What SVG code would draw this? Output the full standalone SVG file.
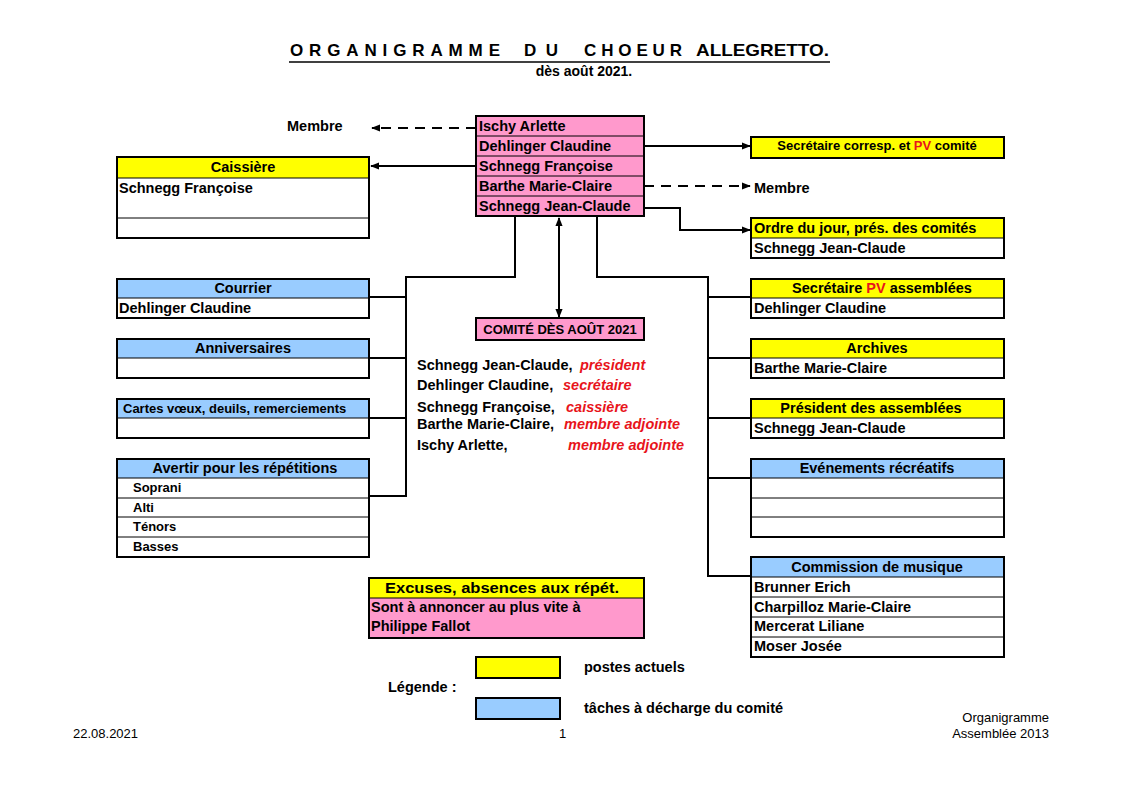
<svg xmlns="http://www.w3.org/2000/svg" width="1122" height="793" viewBox="0 0 1122 793">
<defs>
<marker id="ah" viewBox="0 0 10 10" refX="9" refY="5" markerWidth="9" markerHeight="9" markerUnits="userSpaceOnUse" orient="auto-start-reverse">
<path d="M0,1 L10,5 L0,9 z" fill="#000"/>
</marker>
</defs>
<style>
text{font-family:"Liberation Sans",Arial,sans-serif;font-weight:bold;font-size:14.5px;fill:#000}
.c{text-anchor:middle}
.s{font-size:13px}
.t{font-size:17px}
.n{font-weight:normal;font-size:13px}
.r{fill:#e8141b;font-style:italic}
.red{fill:#e8141b}
.y{fill:#ffff00}
.b{fill:#99ccff}
.p{fill:#ff99cc}
.w{fill:#fff}
.o{fill:none;stroke:#000;stroke-width:2}
.l{stroke:#000;stroke-width:1;fill:none}
.k{stroke:#000;stroke-width:2;fill:none}
.d{stroke:#000;stroke-width:2;fill:none;stroke-dasharray:10,7}
</style>
<rect width="1122" height="793" fill="#fff"/>

<g id="title">
<text x="290" y="56" class="t" textLength="210" lengthAdjust="spacing">ORGANIGRAMME</text>
<text x="524" y="56" class="t" textLength="34" lengthAdjust="spacing">DU</text>
<text x="584" y="56" class="t" textLength="98" lengthAdjust="spacing">CHOEUR</text>
<text x="696" y="56" class="t" textLength="133" lengthAdjust="spacingAndGlyphs">ALLEGRETTO.</text>
<line x1="289" y1="62" x2="830" y2="62" stroke="#000" stroke-width="1.5"/>
<text x="584" y="76" class="c" style="font-size:14px">dès août 2021.</text>
</g>

<g id="connectors">
<line class="d" x1="476" y1="128" x2="372" y2="128" marker-end="url(#ah)"/>
<line class="k" x1="476" y1="166" x2="371" y2="166" marker-end="url(#ah)"/>
<line class="k" x1="644" y1="146" x2="750" y2="146" marker-end="url(#ah)"/>
<line class="d" x1="644" y1="186" x2="750" y2="186" marker-end="url(#ah)"/>
<polyline class="k" points="644,208 680,208 680,230 750,230" marker-end="url(#ah)"/>
<line class="k" x1="559" y1="218" x2="559" y2="317" marker-start="url(#ah)" marker-end="url(#ah)"/>
<polyline class="k" points="515,216 515,277 406,277 406,496 370,496"/>
<line class="k" x1="406" y1="297" x2="370" y2="297"/>
<line class="k" x1="406" y1="358" x2="370" y2="358"/>
<line class="k" x1="406" y1="418" x2="370" y2="418"/>
<polyline class="k" points="597,216 597,277 708,277 708,576 751,576"/>
<line class="k" x1="708" y1="297" x2="751" y2="297"/>
<line class="k" x1="708" y1="358" x2="751" y2="358"/>
<line class="k" x1="708" y1="418" x2="751" y2="418"/>
<line class="k" x1="708" y1="478" x2="751" y2="478"/>
</g>

<g id="membre-left"><text x="287" y="131">Membre</text></g>
<g id="membre-right"><text x="754" y="193">Membre</text></g>

<g id="central">
<rect class="p" x="476" y="116" width="168" height="100"/>
<line class="l" x1="476" y1="136" x2="644" y2="136"/>
<line class="l" x1="476" y1="156" x2="644" y2="156"/>
<line class="l" x1="476" y1="176" x2="644" y2="176"/>
<line class="l" x1="476" y1="196" x2="644" y2="196"/>
<rect class="o" x="476" y="116" width="168" height="100"/>
<text x="479" y="131">Ischy Arlette</text>
<text x="479" y="151">Dehlinger Claudine</text>
<text x="479" y="171">Schnegg Françoise</text>
<text x="479" y="191">Barthe Marie-Claire</text>
<text x="479" y="211">Schnegg Jean-Claude</text>
</g>

<g id="caissiere">
<rect class="y" x="117" y="157" width="252" height="21"/>
<rect class="w" x="117" y="178" width="252" height="60"/>
<line class="l" x1="117" y1="178" x2="369" y2="178"/>
<line class="l" x1="117" y1="218" x2="369" y2="218"/>
<rect class="o" x="117" y="157" width="252" height="81"/>
<text x="243" y="172" class="c">Caissière</text>
<text x="119" y="193">Schnegg Françoise</text>
</g>

<g id="secr-corresp">
<rect class="y" x="751" y="137" width="253" height="21"/>
<rect class="o" x="751" y="137" width="253" height="21"/>
<text x="877" y="150" class="c s">Secrétaire corresp. et <tspan class="red">PV</tspan> comité</text>
</g>

<g id="ordre">
<rect class="y" x="751" y="218" width="253" height="20"/>
<rect class="w" x="751" y="238" width="253" height="20"/>
<line class="l" x1="751" y1="238" x2="1004" y2="238"/>
<rect class="o" x="751" y="218" width="253" height="40"/>
<text x="754" y="233">Ordre du jour, prés. des comités</text>
<text x="754" y="253">Schnegg Jean-Claude</text>
</g>

<g id="courrier">
<rect class="b" x="117" y="279" width="252" height="19"/>
<rect class="w" x="117" y="298" width="252" height="20"/>
<line class="l" x1="117" y1="298" x2="369" y2="298"/>
<rect class="o" x="117" y="279" width="252" height="39"/>
<text x="243" y="293" class="c">Courrier</text>
<text x="119" y="313">Dehlinger Claudine</text>
</g>

<g id="anniversaires">
<rect class="b" x="117" y="339" width="252" height="19"/>
<rect class="w" x="117" y="358" width="252" height="20"/>
<line class="l" x1="117" y1="358" x2="369" y2="358"/>
<rect class="o" x="117" y="339" width="252" height="39"/>
<text x="243" y="353" class="c">Anniversaires</text>
</g>

<g id="cartes">
<rect class="b" x="117" y="399" width="252" height="19"/>
<rect class="w" x="117" y="418" width="252" height="20"/>
<line class="l" x1="117" y1="418" x2="369" y2="418"/>
<rect class="o" x="117" y="399" width="252" height="39"/>
<text x="123" y="413" class="s">Cartes vœux, deuils, remerciements</text>
</g>

<g id="avertir">
<rect class="b" x="117" y="459" width="252" height="19"/>
<rect class="w" x="117" y="478" width="252" height="79"/>
<line class="l" x1="117" y1="478" x2="369" y2="478"/>
<line class="l" x1="117" y1="498" x2="369" y2="498"/>
<line class="l" x1="117" y1="517" x2="369" y2="517"/>
<line class="l" x1="117" y1="537" x2="369" y2="537"/>
<rect class="o" x="117" y="459" width="252" height="98"/>
<text x="245" y="473" class="c">Avertir pour les répétitions</text>
<text x="133" y="492" class="s">Soprani</text>
<text x="133" y="512" class="s">Alti</text>
<text x="133" y="531" class="s">Ténors</text>
<text x="133" y="551" class="s">Basses</text>
</g>

<g id="comite">
<rect class="p" x="476" y="318" width="168" height="22"/>
<rect class="o" x="476" y="318" width="168" height="22"/>
<text x="560" y="334" class="c s">COMITÉ DÈS AOÛT 2021</text>
</g>

<g id="comite-list">
<text x="417" y="370">Schnegg Jean-Claude, <tspan x="580" class="r">président</tspan></text>
<text x="417" y="390">Dehlinger Claudine, <tspan x="563" class="r">secrétaire</tspan></text>
<text x="417" y="412">Schnegg Françoise, <tspan x="566" class="r">caissière</tspan></text>
<text x="417" y="429">Barthe Marie-Claire, <tspan x="564" class="r">membre adjointe</tspan></text>
<text x="417" y="450">Ischy Arlette, <tspan x="568" class="r">membre adjointe</tspan></text>
</g>

<g id="secr-pv">
<rect class="y" x="751" y="279" width="253" height="19"/>
<rect class="w" x="751" y="298" width="253" height="20"/>
<line class="l" x1="751" y1="298" x2="1004" y2="298"/>
<rect class="o" x="751" y="279" width="253" height="39"/>
<text x="882" y="293" class="c">Secrétaire <tspan class="red">PV</tspan> assemblées</text>
<text x="754" y="313">Dehlinger Claudine</text>
</g>

<g id="archives">
<rect class="y" x="751" y="339" width="253" height="19"/>
<rect class="w" x="751" y="358" width="253" height="20"/>
<line class="l" x1="751" y1="358" x2="1004" y2="358"/>
<rect class="o" x="751" y="339" width="253" height="39"/>
<text x="877" y="353" class="c">Archives</text>
<text x="754" y="373">Barthe Marie-Claire</text>
</g>

<g id="president">
<rect class="y" x="751" y="399" width="253" height="19"/>
<rect class="w" x="751" y="418" width="253" height="20"/>
<line class="l" x1="751" y1="418" x2="1004" y2="418"/>
<rect class="o" x="751" y="399" width="253" height="39"/>
<text x="871" y="413" class="c">Président des assemblées</text>
<text x="754" y="433">Schnegg Jean-Claude</text>
</g>

<g id="evenements">
<rect class="b" x="751" y="459" width="253" height="19"/>
<rect class="w" x="751" y="478" width="253" height="59"/>
<line class="l" x1="751" y1="478" x2="1004" y2="478"/>
<line class="l" x1="751" y1="498" x2="1004" y2="498"/>
<line class="l" x1="751" y1="517" x2="1004" y2="517"/>
<rect class="o" x="751" y="459" width="253" height="78"/>
<text x="877" y="473" class="c">Evénements récréatifs</text>
</g>

<g id="commission">
<rect class="b" x="751" y="557" width="253" height="20"/>
<rect class="w" x="751" y="577" width="253" height="80"/>
<line class="l" x1="751" y1="577" x2="1004" y2="577"/>
<line class="l" x1="751" y1="597" x2="1004" y2="597"/>
<line class="l" x1="751" y1="617" x2="1004" y2="617"/>
<line class="l" x1="751" y1="637" x2="1004" y2="637"/>
<rect class="o" x="751" y="557" width="253" height="100"/>
<text x="877" y="572" class="c">Commission de musique</text>
<text x="754" y="592">Brunner Erich</text>
<text x="754" y="612">Charpilloz Marie-Claire</text>
<text x="754" y="631">Mercerat Liliane</text>
<text x="754" y="651">Moser Josée</text>
</g>

<g id="excuses">
<rect class="y" x="369" y="578" width="275" height="20"/>
<rect class="p" x="369" y="598" width="275" height="40"/>
<line class="l" x1="369" y1="598" x2="644" y2="598"/>
<rect class="o" x="369" y="578" width="275" height="60"/>
<text x="385" y="593" textLength="234" lengthAdjust="spacingAndGlyphs">Excuses, absences aux répét.</text>
<text x="371" y="612">Sont à annoncer au plus vite à</text>
<text x="371" y="631">Philippe Fallot</text>
</g>

<g id="legende">
<text x="388" y="692">Légende :</text>
<rect class="y" x="476" y="657" width="84" height="21"/>
<rect class="o" x="476" y="657" width="84" height="21"/>
<text x="584" y="672">postes actuels</text>
<rect class="b" x="476" y="698" width="84" height="21"/>
<rect class="o" x="476" y="698" width="84" height="21"/>
<text x="584" y="713">tâches à décharge du comité</text>
</g>

<g id="footer">
<text x="73" y="738" class="n">22.08.2021</text>
<text x="559" y="738" class="n">1</text>
<text x="1049" y="722" class="n" text-anchor="end">Organigramme</text>
<text x="1049" y="738" class="n" text-anchor="end">Assemblée 2013</text>
</g>
</svg>
